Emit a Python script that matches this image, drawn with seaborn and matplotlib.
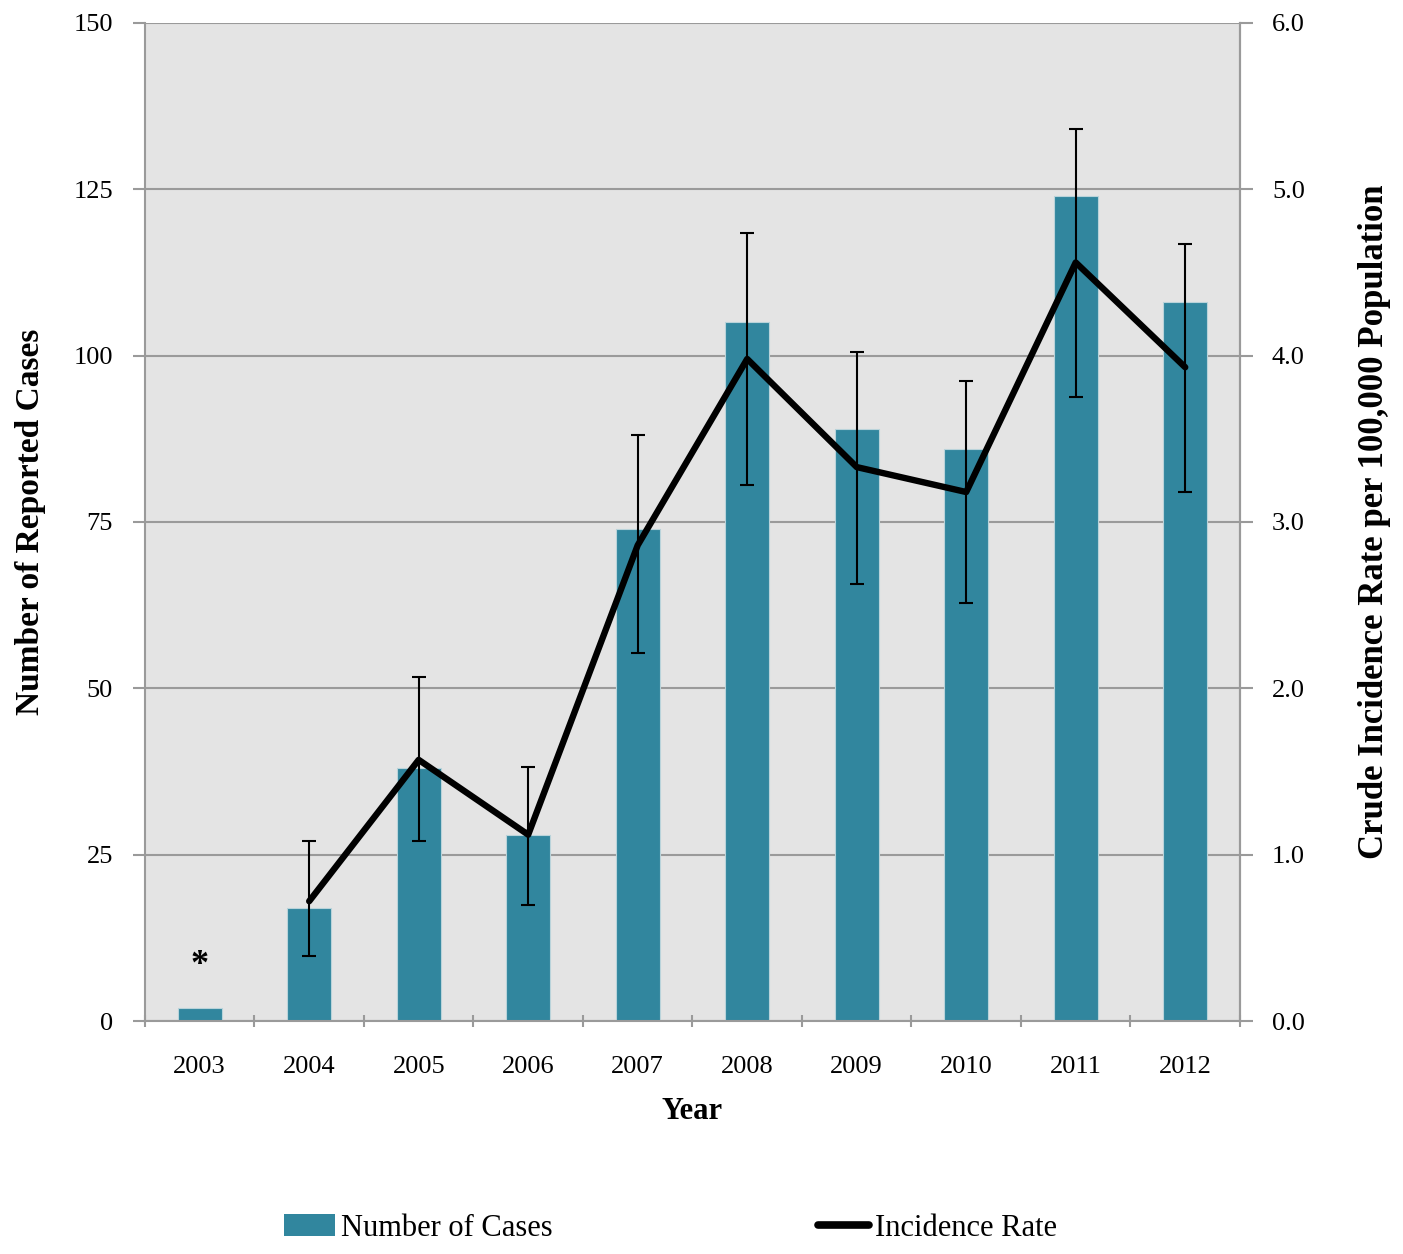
import numpy as np
import pandas as pd
import matplotlib
matplotlib.use("Agg")
import matplotlib.pyplot as plt
import seaborn as sns
from matplotlib.patches import Patch
from matplotlib.lines import Line2D

# Annual reported cases and crude incidence rate (per 100,000)
years = ["2003", "2004", "2005", "2006", "2007", "2008", "2009", "2010", "2011", "2012"]
cases = [2, 17, 38, 28, 74, 105, 89, 86, 124, 108]
rate = [np.nan, 0.72, 1.57, 1.12, 2.86, 3.98, 3.33, 3.18, 4.56, 3.93]
rate_low = [np.nan, 0.39, 1.08, 0.70, 2.21, 3.22, 2.63, 2.51, 3.75, 3.18]
rate_high = [np.nan, 1.08, 2.07, 1.53, 3.52, 4.74, 4.02, 3.85, 5.36, 4.67]

left_ticks = [0, 25, 50, 75, 100, 125, 150]
right_ticks = [0.0, 1.0, 2.0, 3.0, 4.0, 5.0, 6.0]

bar_color = "#31869E"
grid_color = "#9a9a9a"

sns.set_theme(style="white")
plt.rcParams["font.family"] = ["Liberation Serif", "DejaVu Serif"]
plt.rcParams["text.color"] = "black"
plt.rcParams["axes.labelcolor"] = "black"
plt.rcParams["xtick.color"] = "black"
plt.rcParams["ytick.color"] = "black"

df = pd.DataFrame({"year": years, "cases": cases, "rate": rate,
                   "low": rate_low, "high": rate_high})
df["pos"] = np.arange(len(years))

fig = plt.figure(figsize=(14.03, 12.54), dpi=100)
ax = fig.add_axes([0.1033, 0.1858, 0.7805, 0.7959])
ax.set_facecolor("#E4E4E4")

sns.barplot(data=df, x="year", y="cases", color=bar_color, width=0.4,
            saturation=1, ax=ax, zorder=2, edgecolor="#b9d3da", linewidth=0.8)
ax.set_xlim(-0.5, len(years) - 0.5)
ax.set_ylim(0, 150)
ax.set_yticks(left_ticks)
ax.set_yticklabels([str(t) for t in left_ticks], fontsize=19)
ax.yaxis.grid(True, color=grid_color, lw=1.5, zorder=0)
ax.set_axisbelow(True)

# category separators on the x axis
ax.set_xticks(np.arange(len(years)))
ax.set_xticklabels(years, fontsize=19)
ax.tick_params(axis="x", length=0, pad=25)
ax.set_xticks(np.arange(len(years) + 1) - 0.5, minor=True)
ax.tick_params(axis="x", which="minor", length=9, width=1.5,
               color=grid_color, direction="inout", bottom=True)
ax.tick_params(axis="y", length=9, width=1.5, color=grid_color,
               labelcolor="black", direction="out", left=True, pad=14)

ax.spines["top"].set_visible(False)
for side in ["left", "bottom", "right"]:
    ax.spines[side].set_color(grid_color)
    ax.spines[side].set_linewidth(1.5)

ax.set_xlabel("Year", fontsize=22, fontweight="bold", labelpad=14)
ax.set_ylabel("Number of Reported Cases", fontsize=24, fontweight="bold",
              labelpad=20)

# marker for the year without a computed rate
ax.text(0, 8.4, "*", ha="center", va="center", fontsize=26, fontweight="bold")

ax2 = ax.twinx()
ax2.set_ylim(0, 6)
d = df.dropna()
sns.lineplot(data=d, x="pos", y="rate", color="black", lw=4.6,
             ax=ax2, zorder=4)
ax2.errorbar(d["pos"], d["rate"],
             yerr=[d["rate"] - d["low"], d["high"] - d["rate"]],
             fmt="none", ecolor="black", elinewidth=1.5, capsize=5,
             capthick=1.5, zorder=5)
ax2.set_xlim(-0.5, len(years) - 0.5)
ax2.set_yticks(right_ticks)
ax2.set_yticklabels([f"{t:.1f}" for t in right_ticks], fontsize=19)
ax2.tick_params(axis="y", length=9, width=1.5, color=grid_color,
                labelcolor="black", direction="out", right=True, pad=14)
ax2.set_ylabel("Crude Incidence Rate per 100,000 Population", fontsize=25,
               fontweight="bold", labelpad=38)
for side in ["top", "left", "bottom"]:
    ax2.spines[side].set_visible(False)
ax2.spines["right"].set_color(grid_color)
ax2.spines["right"].set_linewidth(1.5)
ax2.grid(False)

handles = [Patch(facecolor=bar_color, edgecolor="none", label="Number of Cases"),
           Line2D([0], [0], color="black", lw=5.5, label="Incidence Rate")]
fig.legend(handles=handles, loc="lower center", bbox_to_anchor=(0.478, -0.013),
           ncol=2, frameon=False, fontsize=22, columnspacing=8.7,
           handlelength=1.65, handletextpad=0.2)

fig.savefig("out.png", dpi=100)
